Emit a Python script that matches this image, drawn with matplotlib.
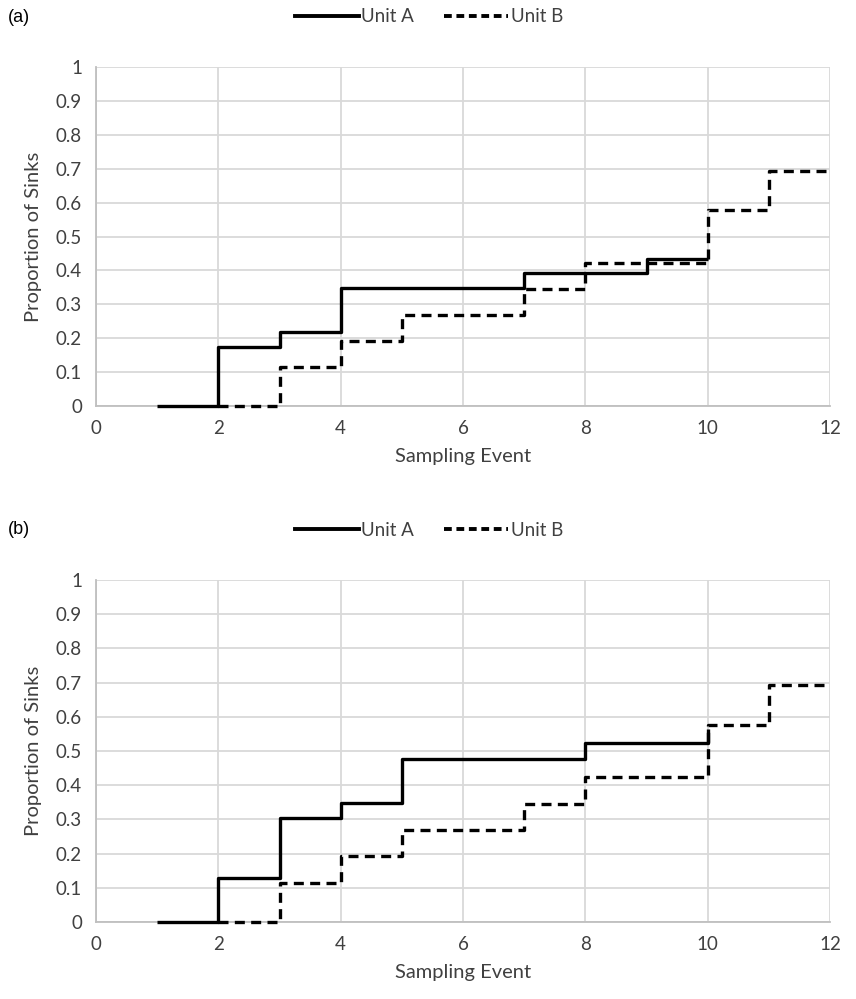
import matplotlib
matplotlib.use("Agg")
import matplotlib.pyplot as plt
from matplotlib.lines import Line2D

plt.rcParams['font.family'] = ['Lato', 'DejaVu Sans']

# Panel (a)
a_unitA_x = [1, 2, 3, 4, 5, 6, 7, 8, 9, 10]
a_unitA_y = [0, 0.174, 0.217, 0.348, 0.348, 0.348, 0.391, 0.391, 0.435, 0.435]
a_unitB_x = [2, 3, 4, 5, 6, 7, 8, 9, 10, 11, 12]
a_unitB_y = [0, 0.115, 0.192, 0.269, 0.269, 0.346, 0.423, 0.423, 0.577, 0.692, 0.692]

# Panel (b)
b_unitA_x = [1, 2, 3, 4, 5, 6, 7, 8, 9, 10]
b_unitA_y = [0, 0.130, 0.304, 0.348, 0.478, 0.478, 0.478, 0.522, 0.522, 0.565]
b_unitB_x = [2, 3, 4, 5, 6, 7, 8, 9, 10, 11, 12]
b_unitB_y = [0, 0.115, 0.192, 0.269, 0.269, 0.346, 0.423, 0.423, 0.577, 0.692, 0.692]

x_ticks = [0, 2, 4, 6, 8, 10, 12]
y_ticks = [0, 0.1, 0.2, 0.3, 0.4, 0.5, 0.6, 0.7, 0.8, 0.9, 1]
y_labels = ['0', '0.1', '0.2', '0.3', '0.4', '0.5', '0.6', '0.7', '0.8', '0.9', '1']
series_names = ['Unit A', 'Unit B']
panel_labels = ['(a)', '(b)']
xlabel = 'Sampling Event'
ylabel = 'Proportion of Sinks'

W, H = 856, 999
fig = plt.figure(figsize=(W / 100, H / 100), dpi=100)

grid_c = '#d9d9d9'
text_c = '#404040'
dash = (0, (3.0, 1.9))

panels = [
    (67, 406, a_unitA_x, a_unitA_y, a_unitB_x, a_unitB_y, 17),
    (580, 922, b_unitA_x, b_unitA_y, b_unitB_x, b_unitB_y, 530),
]

for i, (top, bot, ax_, ay_, bx_, by_, leg_y) in enumerate(panels):
    left, right = 96, 830
    ax = fig.add_axes([left / W, (H - bot) / H, (right - left) / W, (bot - top) / H])
    ax.step(ax_, ay_, where='post', color='black', lw=2.4, solid_capstyle='butt',
            zorder=3, clip_on=False)
    ax.step(bx_, by_, where='post', color='black', lw=2.4, linestyle=dash,
            zorder=3, clip_on=False)
    ax.set_xlim(0, 12)
    ax.set_ylim(0, 1)
    ax.set_xticks(x_ticks)
    ax.set_yticks(y_ticks)
    ax.set_yticklabels(y_labels)
    ax.grid(True, color=grid_c, lw=1.3, zorder=0)
    ax.set_axisbelow(True)
    for s in ['top', 'right']:
        ax.spines[s].set_visible(False)
    for s in ['left', 'bottom']:
        ax.spines[s].set_color('#bfbfbf')
        ax.spines[s].set_linewidth(1.3)
    ax.tick_params(length=0, labelsize=13.5, labelcolor=text_c, pad=10)
    ax.set_xlabel(xlabel, fontsize=14.5, color=text_c, labelpad=8)
    ax.set_ylabel(ylabel, fontsize=14.5, color=text_c, labelpad=10)

    fig.text(8 / W, 1 - leg_y / H, panel_labels[i], fontsize=13, va='center', ha='left',
             family=['Liberation Sans'], color='black')
    handles = [Line2D([], [], color='black', lw=2.8),
               Line2D([], [], color='black', lw=2.8, linestyle=(0, (2.0, 1.2)))]
    fig.legend(handles, series_names, loc='center', bbox_to_anchor=(429 / W, 1 - leg_y / H),
               ncol=2, frameon=False, fontsize=13.5, handlelength=3.4, handletextpad=0.15,
               columnspacing=1.6, labelcolor=text_c)

fig.savefig('out.png', dpi=100)
